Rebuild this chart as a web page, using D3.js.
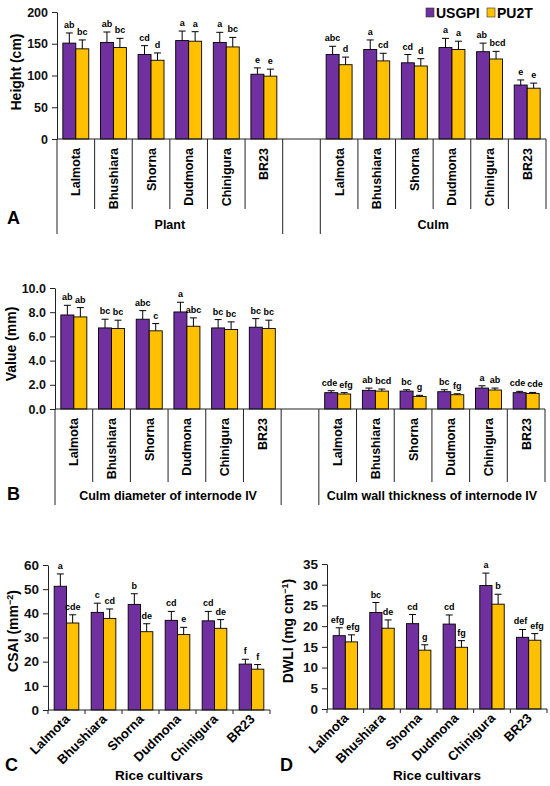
<!DOCTYPE html>
<html>
<head>
<meta charset="utf-8">
<script src="https://cdn.jsdelivr.net/npm/d3@7"></script>
<style>
    body { margin: 0; background: #fff; }
    svg { display: block; font-family: "Liberation Sans", Arial, sans-serif; font-weight: bold; }
    .bar { stroke: #000; stroke-width: 0.9; }
    .err { stroke: #000; stroke-width: 1; fill: none; }
    .rule { stroke: #222; stroke-width: 1; }
</style>
</head>
<body>
<svg width="550" height="786"></svg>
<script>
var cultivars = ["Lalmota", "Bhushiara", "Shorna", "Dudmona", "Chinigura", "BR23"];
var seriesNames = ["USGPI", "PU2T"];
var seriesColors = ["#7030A0", "#FFC000"];

// A - height (cm)
var plantUSGPI = [151, 152, 133, 155, 152, 102];
var plantPU2T = [142, 144, 124, 154, 145, 99];
var plantErrUSGPI = [16, 16.5, 14, 15, 16, 10];
var plantErrPU2T = [14, 14.5, 11.5, 15, 15, 11];
var plantLetUSGPI = ["ab", "ab", "cd", "a", "a", "e"];
var plantLetPU2T = ["bc", "bc", "d", "a", "bc", "e"];

var culmUSGPI = [133, 141, 120, 144, 137.5, 85];
var culmPU2T = [117, 123, 115, 141, 126, 80];
var culmErrUSGPI = [13, 15, 13, 14.5, 13.5, 8];
var culmErrPU2T = [12, 12, 11.5, 13, 12, 8];
var culmLetUSGPI = ["abc", "a", "cd", "a", "ab", "e"];
var culmLetPU2T = ["d", "cd", "d", "a", "bcd", "e"];

// B - culm diameter and wall thickness of internode IV (mm)
var diamUSGPI = [7.77, 6.70, 7.42, 8.02, 6.70, 6.76];
var diamPU2T = [7.61, 6.65, 6.46, 6.84, 6.57, 6.65];
var diamErrUSGPI = [0.80, 0.72, 0.71, 0.80, 0.69, 0.71];
var diamErrPU2T = [0.77, 0.69, 0.60, 0.69, 0.63, 0.69];
var diamLetUSGPI = ["ab", "bc", "abc", "a", "bc", "bc"];
var diamLetPU2T = ["ab", "bc", "c", "abc", "bc", "bc"];

var wallUSGPI = [1.35, 1.54, 1.48, 1.43, 1.73, 1.35];
var wallPU2T = [1.24, 1.48, 1.04, 1.18, 1.57, 1.29];
var wallErrUSGPI = [0.16, 0.19, 0.11, 0.16, 0.19, 0.11];
var wallErrPU2T = [0.11, 0.17, 0.09, 0.08, 0.16, 0.08];
var wallLetUSGPI = ["cde", "ab", "bc", "bc", "a", "cde"];
var wallLetPU2T = ["efg", "bcd", "g", "fg", "ab", "cde"];

// C - CSAI
var csaiUSGPI = [51.2, 40.4, 43.7, 37.1, 36.9, 19.0];
var csaiPU2T = [36.0, 37.9, 32.4, 31.2, 33.8, 16.9];
var csaiErrUSGPI = [5.1, 3.8, 4.4, 3.7, 3.9, 2.0];
var csaiErrPU2T = [3.4, 3.9, 3.3, 3.0, 3.6, 1.9];
var csaiLetUSGPI = ["a", "c", "b", "cd", "cd", "f"];
var csaiLetPU2T = ["cde", "cd", "de", "e", "de", "f"];

// D - DWLI
var dwliUSGPI = [17.7, 23.3, 20.6, 20.5, 29.8, 17.3];
var dwliPU2T = [16.2, 19.5, 14.2, 14.9, 25.3, 16.6];
var dwliErrUSGPI = [1.9, 2.4, 2.2, 2.2, 3.0, 1.9];
var dwliErrPU2T = [1.7, 2.0, 1.3, 1.6, 2.4, 1.6];
var dwliLetUSGPI = ["efg", "bc", "cd", "cd", "a", "def"];
var dwliLetPU2T = ["efg", "de", "g", "fg", "b", "efg"];

var heightTicks = [0, 50, 100, 150, 200];
var valueTicks = [0, 2, 4, 6, 8, 10];
var csaiTicks = [0, 10, 20, 30, 40, 50, 60];
var dwliTicks = [0, 5, 10, 15, 20, 25, 30, 35];

var svg = d3.select("svg");

function makeRows(prefix, v1, e1, l1, v2, e2, l2) {
    var rows = [];
    cultivars.forEach(function (c, i) {
        rows.push({ slot: prefix + c, cultivar: c, series: seriesNames[0], value: v1[i], err: e1[i], letter: l1[i] });
        rows.push({ slot: prefix + c, cultivar: c, series: seriesNames[1], value: v2[i], err: e2[i], letter: l2[i] });
    });
    return rows;
}

function drawYAxis(g, y, ticks, fmt, fontSize) {
    var axis = g.append("g")
            .call(d3.axisLeft(y).tickValues(ticks).tickFormat(fmt).tickSize(5).tickSizeOuter(0).tickPadding(4));
    axis.attr("font-family", null).attr("font-size", null);
    axis.selectAll("path, line").attr("stroke", "#222");
    axis.selectAll("text").attr("fill", "#111").style("font-size", fontSize + "px");
    return axis;
}

function drawBars(g, rows, xPos, xs, y) {
    var bars = g.selectAll("g.bar-item")
            .data(rows)
            .enter().append("g")
            .attr("class", "bar-item");
    bars.append("rect")
            .attr("class", "bar")
            .attr("x", function (d) { return xPos(d) + xs(d.series); })
            .attr("y", function (d) { return y(d.value); })
            .attr("width", xs.bandwidth())
            .attr("height", function (d) { return y(0) - y(d.value); })
            .attr("fill", function (d) { return seriesColors[seriesNames.indexOf(d.series)]; });
    bars.append("path")
            .attr("class", "err")
            .attr("d", function (d) {
                var cx = xPos(d) + xs(d.series) + xs.bandwidth() / 2;
                var y1 = y(d.value), y2 = y(d.value + d.err);
                return "M" + cx + "," + y1 + "V" + y2 + "M" + (cx - 3.5) + "," + y2 + "H" + (cx + 3.5);
            });
    var labels = bars.append("text")
            .attr("x", function (d) { return xPos(d) + xs(d.series) + xs.bandwidth() / 2; })
            .attr("y", function (d) { return y(d.value + d.err) - 5; })
            .attr("text-anchor", "middle")
            .style("font-size", "9px")
            .text(function (d) { return d.letter; });

    // push apart the two letters of a pair when they collide
    var nodes = labels.nodes();
    for (var i = 0; i < nodes.length; i += 2) {
        var a = nodes[i].getBBox(), b = nodes[i + 1].getBBox();
        var overlap = a.x + a.width + 2 - b.x;
        if (overlap > 0 && Math.abs(a.y - b.y) < a.height) {
            d3.select(nodes[i]).attr("dx", -overlap / 2);
            d3.select(nodes[i + 1]).attr("dx", overlap / 2);
        }
    }
}

function drawGroupedPanel(cfg) {
    var g = svg.append("g");
    var slots = cultivars.map(function (c) { return "0" + c; })
            .concat(["gap"])
            .concat(cultivars.map(function (c) { return "1" + c; }));
    var x = d3.scaleBand().domain(slots).range([cfg.left, cfg.right]);
    var xs = d3.scaleBand().domain(seriesNames).range([0, x.bandwidth()]).paddingOuter(0.45);
    var y = d3.scaleLinear().domain([0, cfg.yMax]).range([cfg.bottom, cfg.top]);

    drawYAxis(g, y, cfg.ticks, cfg.format, 12.5).attr("transform", "translate(" + cfg.left + ",0)");

    var rows = makeRows.apply(null, ["0"].concat(cfg.first)).concat(makeRows.apply(null, ["1"].concat(cfg.second)));
    drawBars(g, rows, function (d) { return x(d.slot); }, xs, y);

    // category axis with two levels
    g.append("line").attr("class", "rule")
            .attr("x1", cfg.left).attr("x2", cfg.right)
            .attr("y1", cfg.bottom).attr("y2", cfg.bottom);
    var edges = slots.map(function (s) { return x(s); }).concat([cfg.right]);
    g.selectAll("line.sep")
            .data(edges)
            .enter().append("line")
            .attr("class", "rule sep")
            .attr("x1", function (d) { return d; })
            .attr("x2", function (d) { return d; })
            .attr("y1", cfg.bottom)
            .attr("y2", function (d, i) { return (i % 7 === 0 || i === 6) ? cfg.outerEnd : cfg.innerEnd; });

    g.selectAll("text.cat")
            .data(slots.filter(function (s) { return s !== "gap"; }))
            .enter().append("text")
            .attr("class", "cat")
            .attr("transform", function (s) {
                return "translate(" + (x(s) + x.bandwidth() / 2) + "," + (cfg.bottom + 9) + ") rotate(-90)";
            })
            .attr("dy", "0.36em")
            .attr("text-anchor", "end")
            .style("font-size", "12.5px")
            .text(function (s) { return s.slice(1); });

    g.selectAll("text.group")
            .data(cfg.groups)
            .enter().append("text")
            .attr("class", "group")
            .attr("x", function (d, i) {
                var a = x(i === 0 ? slots[0] : slots[7]);
                return a + x.bandwidth() * 3;
            })
            .attr("y", cfg.groupY)
            .attr("text-anchor", "middle")
            .style("font-size", "12.5px")
            .text(function (d) { return d; });

    g.append("text")
            .attr("transform", "translate(" + cfg.titleX + "," + cfg.titleY + ") rotate(-90)")
            .attr("dy", "0.35em")
            .attr("text-anchor", "middle")
            .style("font-size", "14px")
            .text(cfg.title);
    g.append("text")
            .attr("x", 7)
            .attr("y", cfg.letterY)
            .style("font-size", "18px")
            .text(cfg.letter);
}

function drawSimplePanel(cfg) {
    var g = svg.append("g");
    var x = d3.scaleBand().domain(cultivars).range([cfg.left, cfg.right]);
    var xs = d3.scaleBand().domain(seriesNames).range([0, x.bandwidth()]).paddingOuter(0.5);
    var y = d3.scaleLinear().domain([0, cfg.yMax]).range([cfg.bottom, cfg.top]);

    drawYAxis(g, y, cfg.ticks, d3.format("d"), 13.5).attr("transform", "translate(" + cfg.left + ",0)");

    var rows = makeRows.apply(null, [""].concat(cfg.data));
    drawBars(g, rows, function (d) { return x(d.cultivar); }, xs, y);

    g.append("line").attr("class", "rule")
            .attr("x1", cfg.left).attr("x2", cfg.right)
            .attr("y1", cfg.bottom).attr("y2", cfg.bottom);
    g.selectAll("line.tk")
            .data(cultivars.map(function (c) { return x(c); }).concat([cfg.right]))
            .enter().append("line")
            .attr("class", "rule tk")
            .attr("x1", function (d) { return d; })
            .attr("x2", function (d) { return d; })
            .attr("y1", cfg.bottom)
            .attr("y2", cfg.bottom + 4);

    g.selectAll("text.cat")
            .data(cultivars)
            .enter().append("text")
            .attr("class", "cat")
            .attr("transform", function (c) {
                return "translate(" + (x(c) + x.bandwidth() / 2 + 4) + "," + (cfg.bottom + 10) + ") rotate(-45)";
            })
            .attr("text-anchor", "end")
            .style("font-size", "13px")
            .text(function (c) { return c; });

    g.append("text")
            .attr("x", (cfg.left + cfg.right) / 2)
            .attr("y", 780)
            .attr("text-anchor", "middle")
            .style("font-size", "13.5px")
            .text("Rice cultivars");

    var title = g.append("text")
            .attr("transform", "translate(" + cfg.titleX + "," + cfg.titleY + ") rotate(-90)")
            .attr("dy", "0.35em")
            .attr("text-anchor", "middle")
            .style("font-size", "14px");
    title.append("tspan").text(cfg.title[0]);
    title.append("tspan").attr("baseline-shift", "super").style("font-size", "9px").text(cfg.title[1]);
    title.append("tspan").text(")");

    g.append("text")
            .attr("x", cfg.letterX)
            .attr("y", 771)
            .style("font-size", "18px")
            .text(cfg.letter);
}

drawGroupedPanel({
    left: 57, right: 546, top: 12, bottom: 139, yMax: 200,
    ticks: heightTicks, format: d3.format("d"),
    first: [plantUSGPI, plantErrUSGPI, plantLetUSGPI, plantPU2T, plantErrPU2T, plantLetPU2T],
    second: [culmUSGPI, culmErrUSGPI, culmLetUSGPI, culmPU2T, culmErrPU2T, culmLetPU2T],
    groups: ["Plant", "Culm"], groupY: 229, innerEnd: 209, outerEnd: 234,
    title: "Height (cm)", titleX: 16, titleY: 72, letter: "A", letterY: 224
});

drawGroupedPanel({
    left: 55, right: 545, top: 288, bottom: 409, yMax: 10,
    ticks: valueTicks, format: d3.format(".1f"),
    first: [diamUSGPI, diamErrUSGPI, diamLetUSGPI, diamPU2T, diamErrPU2T, diamLetPU2T],
    second: [wallUSGPI, wallErrUSGPI, wallLetUSGPI, wallPU2T, wallErrPU2T, wallLetPU2T],
    groups: ["Culm diameter of internode IV", "Culm wall thickness of internode IV"],
    groupY: 500, innerEnd: 482, outerEnd: 505,
    title: "Value (mm)", titleX: 11, titleY: 344, letter: "B", letterY: 500
});

drawSimplePanel({
    left: 48, right: 270, top: 565, bottom: 710, yMax: 60, ticks: csaiTicks,
    data: [csaiUSGPI, csaiErrUSGPI, csaiLetUSGPI, csaiPU2T, csaiErrPU2T, csaiLetPU2T],
    title: ["CSAI (mm", "\u22122"], titleX: 13, titleY: 631, letter: "C", letterX: 5
});

drawSimplePanel({
    left: 327, right: 547, top: 564, bottom: 709, yMax: 35, ticks: dwliTicks,
    data: [dwliUSGPI, dwliErrUSGPI, dwliLetUSGPI, dwliPU2T, dwliErrPU2T, dwliLetPU2T],
    title: ["DWLI (mg cm", "\u22121"], titleX: 288, titleY: 631, letter: "D", letterX: 280
});

// legend
var legend = svg.append("g").selectAll("g")
        .data(seriesNames)
        .enter().append("g")
        .attr("transform", function (d, i) { return "translate(" + (426 + i * 61) + ",8)"; });
legend.append("rect")
        .attr("width", 8)
        .attr("height", 9)
        .attr("fill", function (d, i) { return seriesColors[i]; })
        .attr("stroke", "#333")
        .attr("stroke-width", 0.6);
legend.append("text")
        .attr("x", 10)
        .attr("y", 9.5)
        .style("font-size", "14px")
        .text(function (d) { return d; });
</script>
</body>
</html>
